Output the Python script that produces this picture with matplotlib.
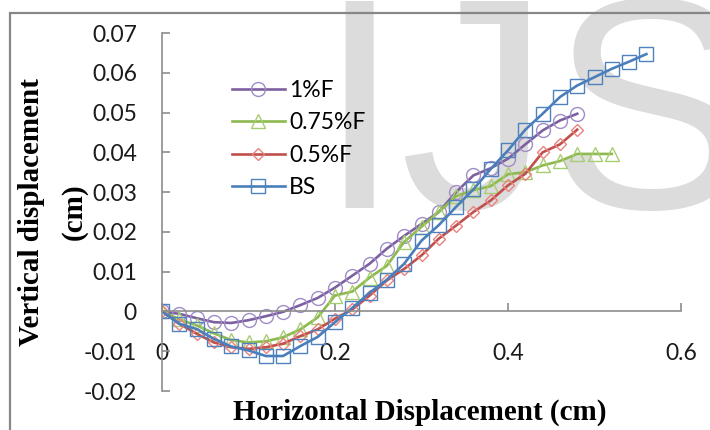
import matplotlib
matplotlib.use("Agg")
import matplotlib.pyplot as plt
from matplotlib.patches import Rectangle

# horizontal displacement readings (cm), every 0.02
x_all = [0.00, 0.02, 0.04, 0.06, 0.08, 0.10, 0.12, 0.14, 0.16, 0.18,
         0.20, 0.22, 0.24, 0.26, 0.28, 0.30, 0.32, 0.34, 0.36, 0.38,
         0.40, 0.42, 0.44, 0.46, 0.48, 0.50, 0.52, 0.54, 0.56]

f100 = [0, -0.0006, -0.0017, -0.0027, -0.0029, -0.0022, -0.0012, -0.0001,
        0.0016, 0.0034, 0.006, 0.009, 0.012, 0.0158, 0.019, 0.022, 0.025,
        0.030, 0.0342, 0.036, 0.0384, 0.042, 0.0455, 0.048, 0.0497]
f075 = [0, -0.002, -0.0035, -0.0055, -0.0072, -0.0078, -0.0075, -0.0065,
        -0.0045, -0.0015, 0.004, 0.005, 0.0085, 0.0115, 0.0175, 0.0213,
        0.025, 0.029, 0.0305, 0.0315, 0.0345, 0.035, 0.0367, 0.0378,
        0.0396, 0.0396, 0.0396]
f050 = [0, -0.0031, -0.0056, -0.0078, -0.009, -0.0094, -0.009, -0.0081,
        -0.0062, -0.0045, -0.0018, 0.0005, 0.004, 0.0078, 0.0107, 0.0141,
        0.0183, 0.0216, 0.025, 0.0279, 0.0317, 0.0346, 0.040, 0.042, 0.0457]
bs = [0, -0.0031, -0.0044, -0.0069, -0.0088, -0.0098, -0.0112, -0.0112,
      -0.0087, -0.0064, -0.0027, 0.0009, 0.0047, 0.008, 0.012, 0.0178,
      0.0217, 0.0263, 0.0307, 0.0358, 0.0405, 0.0457, 0.0497, 0.0539,
      0.0568, 0.0589, 0.061, 0.0628, 0.0647]

labels = ["1%F", "0.75%F", "0.5%F", "BS"]
xticks = [0, 0.2, 0.4, 0.6]
xtick_labels = ["0", "0.2", "0.4", "0.6"]
yticks = [-0.02, -0.01, 0, 0.01, 0.02, 0.03, 0.04, 0.05, 0.06, 0.07]
ytick_labels = ["-0.02", "-0.01", "0", "0.01", "0.02", "0.03", "0.04",
                "0.05", "0.06", "0.07"]

W, H = 710, 430
fig = plt.figure(figsize=(W / 100, H / 100), dpi=100)

# watermark behind everything
fig.text(317 / W, 1 - 208 / H, "IJS", fontsize=216, family="Liberation Sans",
         color="#dcdcdc", ha="left", va="baseline", zorder=-5)
# chart-area border (cropped on right/bottom)
fig.add_artist(Rectangle((10 / W, -0.2), 1.2, 1.2 - 13 / H,
                         transform=fig.transFigure, fill=False,
                         ec="#878787", lw=1.6, zorder=1))

ax = fig.add_axes([162 / W, 39 / H, 519 / W, 358 / H])
ax.patch.set_alpha(0)

styles = [
    (f100, "#7D60A0", "#A08CC6", "o", 10),
    (f075, "#8DB94E", "#A8CC72", "^", 10.5),
    (f050, "#C0504D", "#E8837E", "D", 5.8),
    (bs, "#4A7EBB", "#4F81BD", "s", 9.5),
]
for (ys, lc, mc, mk, ms), lab in zip(styles, labels):
    ax.plot(x_all[:len(ys)], ys, color=lc, lw=1.9, marker=mk, ms=ms,
            mfc="none", mec=mc, mew=1.0, label=lab)

ax.set_xlim(0, 0.6)
ax.set_ylim(-0.02, 0.07)
for s in ("top", "right"):
    ax.spines[s].set_visible(False)
ax.spines["bottom"].set_position(("data", 0))
for s in ("left", "bottom"):
    ax.spines[s].set_color("#8c8c8c")
    ax.spines[s].set_linewidth(1.2)

ax.set_xticks(xticks, xtick_labels)
ax.set_yticks(yticks, ytick_labels)
ax.tick_params(axis="x", direction="in", length=6, width=1.2, color="#8c8c8c",
               pad=23, labelsize=16.5, labelcolor="#1a1a1a")
ax.tick_params(axis="y", direction="in", length=6, width=1.2, color="#8c8c8c",
               pad=18, labelsize=16.5, labelcolor="#1a1a1a")
for t in ax.get_xticklabels() + ax.get_yticklabels():
    t.set_family("Lato")

fig.text(420 / W, 1 - 412 / H, "Horizontal Displacement (cm)",
         family="Liberation Serif", weight="bold", fontsize=21,
         ha="center", va="center")
fig.text(32 / W, 1 - 212 / H, "Vertical displacement",
         family="Liberation Serif", weight="bold", fontsize=21,
         rotation=90, ha="center", va="center")
fig.text(74 / W, 1 - 212 / H, "(cm)",
         family="Liberation Serif", weight="bold", fontsize=21,
         rotation=90, ha="center", va="center")

ax.legend(loc="upper left", bbox_to_anchor=(232 / W, 1 - 80 / H),
          bbox_transform=fig.transFigure, frameon=False, borderpad=0,
          borderaxespad=0, handlelength=2.3, handletextpad=0.2,
          labelspacing=0.5, prop={"family": "Lato", "size": 16.5})

fig.savefig("out.png", dpi=100)
